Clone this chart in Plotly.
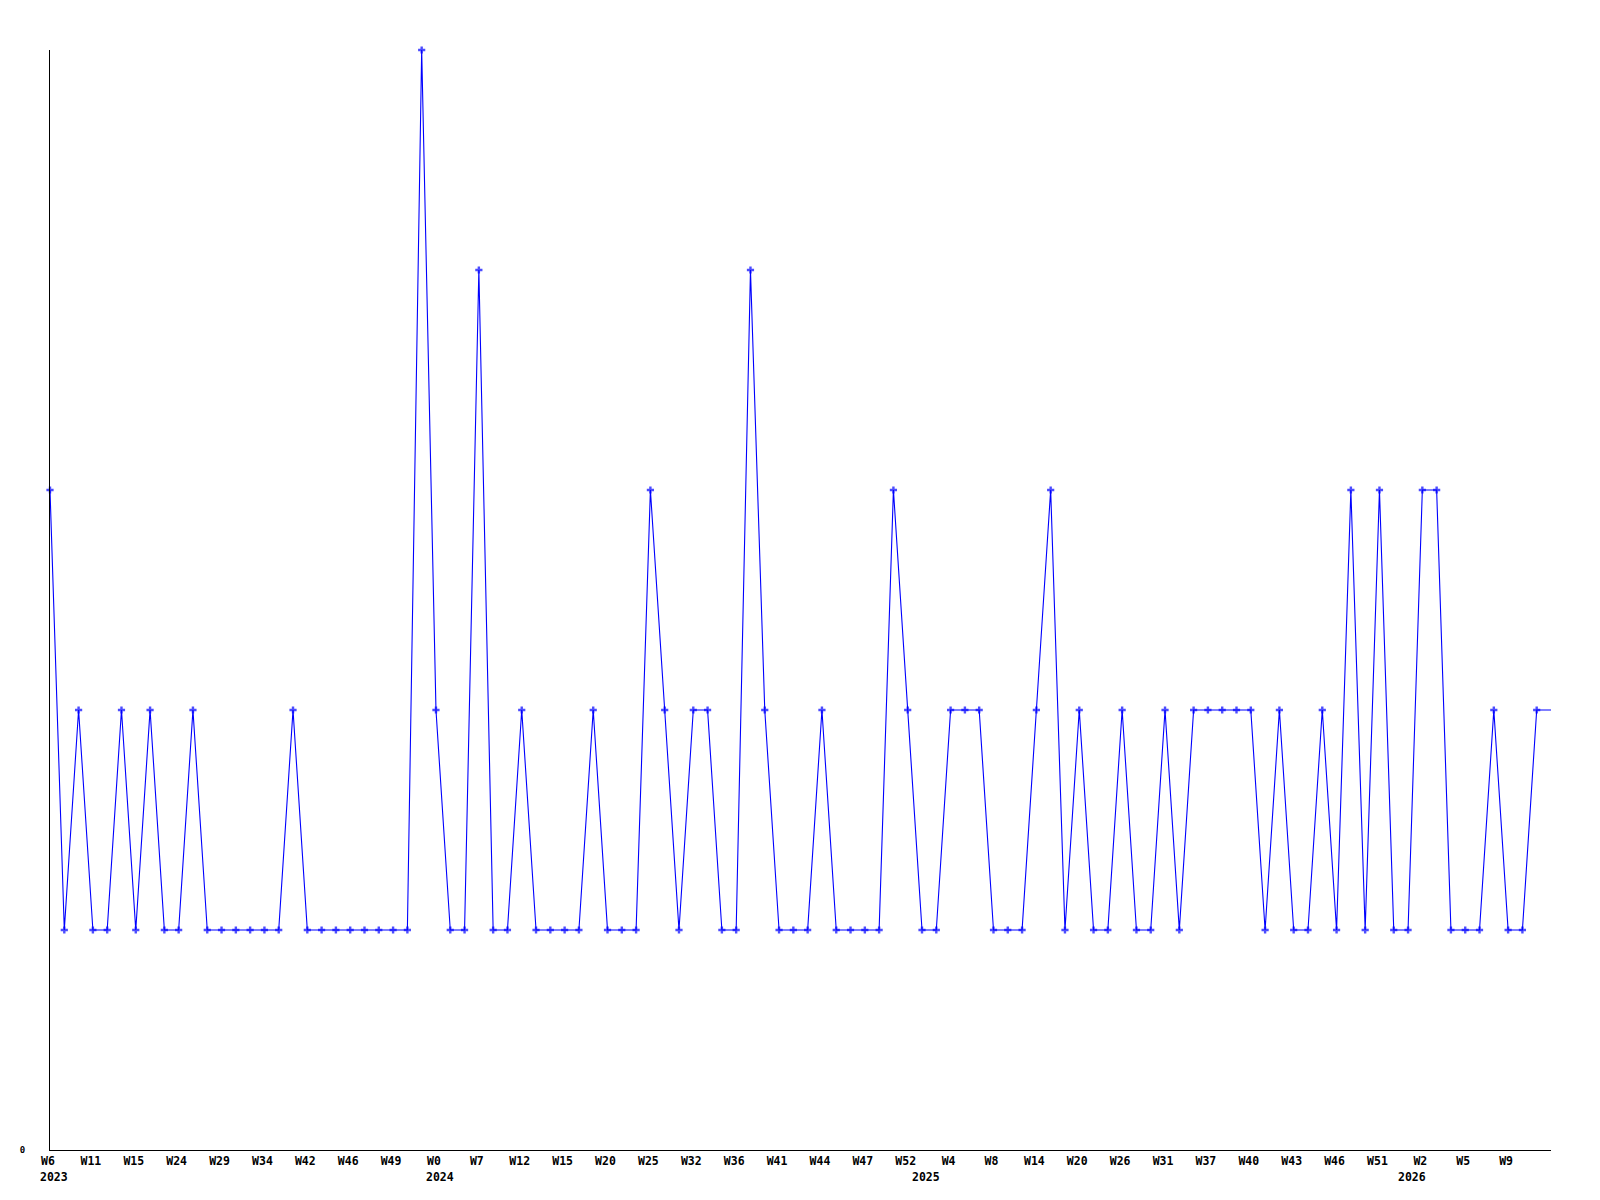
import plotly.graph_objects as go

# Weekly values, one per plotted week (oldest first)
values = [
    3, 1, 2, 1, 1, 2, 1, 2, 1, 1,
    2, 1, 1, 1, 1, 1, 1, 2, 1, 1,
    1, 1, 1, 1, 1, 1, 5, 2, 1, 1,
    4, 1, 1, 2, 1, 1, 1, 1, 2, 1,
    1, 1, 3, 2, 1, 2, 2, 1, 1, 4,
    2, 1, 1, 1, 2, 1, 1, 1, 1, 3,
    2, 1, 1, 2, 2, 2, 1, 1, 1, 2,
    3, 1, 2, 1, 1, 2, 1, 1, 2, 1,
    2, 2, 2, 2, 2, 1, 2, 1, 1, 2,
    1, 3, 1, 3, 1, 1, 3, 3, 1, 1,
    1, 2, 1, 1, 2, 2,
]

# x-axis week labels (one on every third plotted week)
tick_labels = ["W6", "W11", "W15", "W24", "W29", "W34", "W42", "W46", "W49",
               "W0", "W7", "W12", "W15", "W20", "W25", "W32", "W36", "W41",
               "W44", "W47", "W52", "W4", "W8", "W14", "W20", "W26", "W31",
               "W37", "W40", "W43", "W46", "W51", "W2", "W5", "W9"]
label_step = 3

# year labels and the week index where each year starts
years = ["2023", "2024", "2025", "2026"]
year_start = [0, 27, 61, 95]

x = list(range(len(values)))
sizes = [6] * (len(values) - 1) + [0]
span = len(values) - 1
tick_idx = list(range(0, len(values), label_step))[:len(tick_labels)]

FONT = "DejaVu Sans Mono"

fig = go.Figure()
fig.add_trace(go.Scatter(
    x=x, y=values, mode="lines+markers",
    line=dict(color="#0000ff", width=1.1),
    marker=dict(symbol="cross", size=sizes, color="#0000ff",
                line=dict(width=0)),
    cliponaxis=False,
    showlegend=False,
))

for yr, xi in zip(years, year_start):
    fig.add_annotation(x=xi, xref="x", y=-0.0242, yref="paper",
                       text=yr, showarrow=False, xanchor="left",
                       yanchor="middle", xshift=-12,
                       font=dict(family=FONT, size=11.5, color="black",
                                 weight="bold"))

fig.update_layout(
    width=1592, height=1192,
    margin=dict(l=42, r=49, t=42, b=50),
    paper_bgcolor="white", plot_bgcolor="white",
    xaxis=dict(range=[0, span], showgrid=False, zeroline=False,
               showline=True, linecolor="black", linewidth=1,
               tickmode="array", tickvals=tick_idx, ticktext=tick_labels,
               ticks="", tickangle=0, ticklabelshift=-2,
               tickfont=dict(family=FONT, size=11.5, color="black",
                             weight="bold")),
    yaxis=dict(range=[0, 5], showgrid=False, zeroline=False,
               showline=True, linecolor="black", linewidth=1,
               tickmode="array", tickvals=[0], ticktext=["0"], ticks="",
               ticklabelstandoff=22,
               tickfont=dict(family=FONT, size=9, color="black",
                             weight="bold")),
)

fig.write_html("out.html")
